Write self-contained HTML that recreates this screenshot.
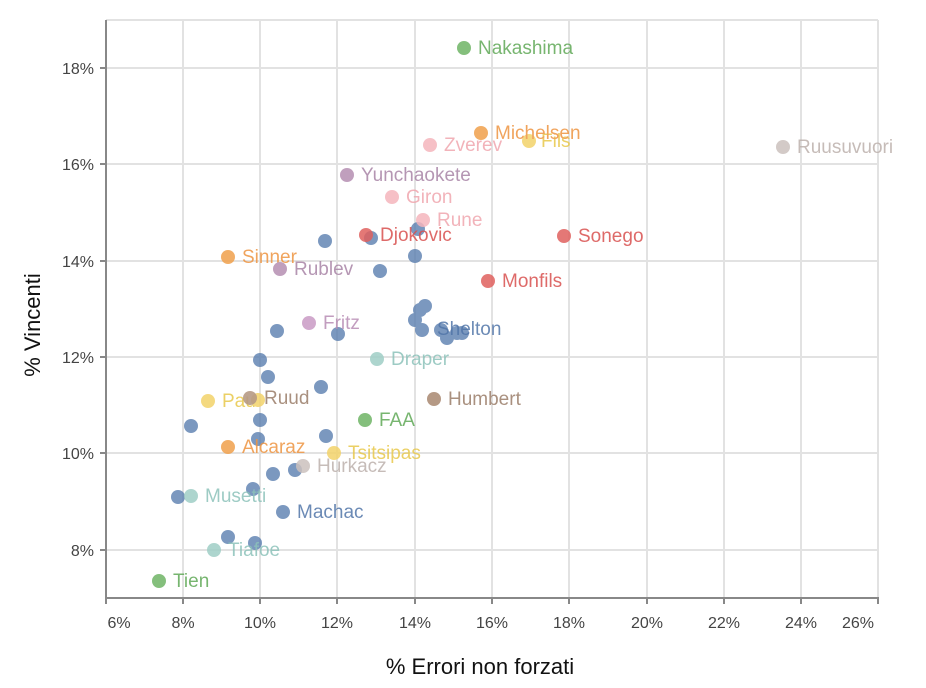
<!DOCTYPE html><html><head><meta charset="utf-8"><style>body{margin:0;background:#fff}svg{display:block;font-family:"Liberation Sans",sans-serif}</style></head><body>
<svg width="926" height="688" viewBox="0 0 926 688">
<g stroke="#e2e2e2" stroke-width="2">
<line x1="183" y1="20" x2="183" y2="598"/><line x1="260" y1="20" x2="260" y2="598"/><line x1="337" y1="20" x2="337" y2="598"/><line x1="415" y1="20" x2="415" y2="598"/><line x1="492" y1="20" x2="492" y2="598"/><line x1="569" y1="20" x2="569" y2="598"/><line x1="647" y1="20" x2="647" y2="598"/><line x1="724" y1="20" x2="724" y2="598"/><line x1="801" y1="20" x2="801" y2="598"/><line x1="878" y1="20" x2="878" y2="598"/>
<line x1="106" y1="20" x2="878" y2="20"/><line x1="106" y1="68" x2="878" y2="68"/><line x1="106" y1="164" x2="878" y2="164"/><line x1="106" y1="261" x2="878" y2="261"/><line x1="106" y1="357" x2="878" y2="357"/><line x1="106" y1="453" x2="878" y2="453"/><line x1="106" y1="550" x2="878" y2="550"/>
</g>
<g stroke="#888" stroke-width="2"><line x1="106" y1="20" x2="106" y2="599"/><line x1="105" y1="598" x2="879" y2="598"/>
<line x1="100" y1="68" x2="106" y2="68"/><line x1="100" y1="164" x2="106" y2="164"/><line x1="100" y1="261" x2="106" y2="261"/><line x1="100" y1="357" x2="106" y2="357"/><line x1="100" y1="453" x2="106" y2="453"/><line x1="100" y1="550" x2="106" y2="550"/>
<line x1="106" y1="598" x2="106" y2="604"/><line x1="183" y1="598" x2="183" y2="604"/><line x1="260" y1="598" x2="260" y2="604"/><line x1="337" y1="598" x2="337" y2="604"/><line x1="415" y1="598" x2="415" y2="604"/><line x1="492" y1="598" x2="492" y2="604"/><line x1="569" y1="598" x2="569" y2="604"/><line x1="647" y1="598" x2="647" y2="604"/><line x1="724" y1="598" x2="724" y2="604"/><line x1="801" y1="598" x2="801" y2="604"/><line x1="878" y1="598" x2="878" y2="604"/></g>
<g font-size="16" fill="#444" text-anchor="end"><text x="94" y="74">18%</text><text x="94" y="170">16%</text><text x="94" y="267">14%</text><text x="94" y="363">12%</text><text x="94" y="459">10%</text><text x="94" y="556">8%</text></g>
<g font-size="16" fill="#444" text-anchor="middle"><text x="119" y="628">6%</text><text x="183" y="628">8%</text><text x="260" y="628">10%</text><text x="337" y="628">12%</text><text x="415" y="628">14%</text><text x="492" y="628">16%</text><text x="569" y="628">18%</text><text x="647" y="628">20%</text><text x="724" y="628">22%</text><text x="801" y="628">24%</text><text x="858" y="628">26%</text></g>
<text x="480" y="674" font-size="22" text-anchor="middle" fill="#111">% Errori non forzati</text>
<text transform="translate(40,325) rotate(-90)" font-size="22" text-anchor="middle" fill="#111">% Vincenti</text>
<g fill="#5b7fb0" opacity="0.8">
<circle cx="325" cy="241" r="7"/><circle cx="371" cy="238" r="7"/><circle cx="415" cy="256" r="7"/><circle cx="418" cy="229" r="7"/><circle cx="380" cy="271" r="7"/><circle cx="415" cy="320" r="7"/><circle cx="420" cy="310" r="7"/><circle cx="425" cy="306" r="7"/><circle cx="422" cy="330" r="7"/><circle cx="277" cy="331" r="7"/><circle cx="338" cy="334" r="7"/><circle cx="260" cy="360" r="7"/><circle cx="268" cy="377" r="7"/><circle cx="321" cy="387" r="7"/><circle cx="260" cy="420" r="7"/><circle cx="191" cy="426" r="7"/><circle cx="258" cy="439" r="7"/><circle cx="326" cy="436" r="7"/><circle cx="273" cy="474" r="7"/><circle cx="295" cy="470" r="7"/><circle cx="253" cy="489" r="7"/><circle cx="178" cy="497" r="7"/><circle cx="283" cy="512" r="7"/><circle cx="228" cy="537" r="7"/><circle cx="255" cy="543" r="7"/><circle cx="441" cy="330" r="7"/><circle cx="447" cy="338" r="7"/><circle cx="457" cy="333" r="7"/><circle cx="462" cy="333" r="7"/></g>
<g font-size="19" opacity="0.85">
<circle cx="464" cy="48" r="7" fill="#6eb465"/><text x="478" y="54" fill="#5fa856">Nakashima</text>
<circle cx="529" cy="141" r="7" fill="#f3d36a"/><text x="541" y="147" fill="#e8c84a">Fils</text>
<circle cx="481" cy="133" r="7" fill="#f0a04b"/><text x="495" y="139" fill="#ee9440">Michelsen</text>
<circle cx="430" cy="145" r="7" fill="#f5b5bc"/><text x="444" y="151" fill="#f0a6ae">Zverev</text>
<circle cx="783" cy="147" r="7" fill="#cbc1bd"/><text x="797" y="153" fill="#bcb0ac">Ruusuvuori</text>
<circle cx="347" cy="175" r="7" fill="#b58eb2"/><text x="361" y="181" fill="#a884a6">Yunchaokete</text>
<circle cx="392" cy="197" r="7" fill="#f5b5bc"/><text x="406" y="203" fill="#f0a6ae">Giron</text>
<circle cx="423" cy="220" r="7" fill="#f5b5bc"/><text x="437" y="226" fill="#f0a6ae">Rune</text>
<circle cx="366" cy="235" r="7" fill="#e0605e"/><text x="380" y="241" fill="#d8504e">Djokovic</text>
<circle cx="564" cy="236" r="7" fill="#e0605e"/><text x="578" y="242" fill="#d8504e">Sonego</text>
<circle cx="228" cy="257" r="7" fill="#f0a04b"/><text x="242" y="263" fill="#ee9440">Sinner</text>
<circle cx="280" cy="269" r="7" fill="#b58eb2"/><text x="294" y="275" fill="#a884a6">Rublev</text>
<circle cx="488" cy="281" r="7" fill="#e0605e"/><text x="502" y="287" fill="#d8504e">Monfils</text>
<circle cx="309" cy="323" r="7" fill="#c99ac4"/><text x="323" y="329" fill="#b88cb4">Fritz</text>
<text x="437" y="335" fill="#5175a8">Shelton</text>
<circle cx="377" cy="359" r="7" fill="#9fcec6"/><text x="391" y="365" fill="#8cc2ba">Draper</text>
<circle cx="208" cy="401" r="7" fill="#f3d36a"/><text x="222" y="407" fill="#e8c84a">Paul</text>
<circle cx="258" cy="400" r="7" fill="#f3d36a"/>
<circle cx="250" cy="398" r="7" fill="#a8876f" opacity="0.9"/><text x="264" y="404" fill="#9a7d68">Ruud</text>
<circle cx="434" cy="399" r="7" fill="#a8876f"/><text x="448" y="405" fill="#9a7d68">Humbert</text>
<circle cx="365" cy="420" r="7" fill="#6eb465"/><text x="379" y="426" fill="#5fa856">FAA</text>
<circle cx="228" cy="447" r="7" fill="#f0a04b"/><text x="242" y="453" fill="#ee9440">Alcaraz</text>
<circle cx="334" cy="453" r="7" fill="#f3d36a"/><text x="348" y="459" fill="#e8c84a">Tsitsipas</text>
<circle cx="303" cy="466" r="7" fill="#cbc1bd"/><text x="317" y="472" fill="#bcb0ac">Hurkacz</text>
<circle cx="191" cy="496" r="7" fill="#9fcec6"/><text x="205" y="502" fill="#8cc2ba">Musetti</text>
<text x="297" y="518" fill="#5175a8">Machac</text>
<circle cx="214" cy="550" r="7" fill="#9fcec6"/><text x="228" y="556" fill="#8cc2ba">Tiafoe</text>
<circle cx="159" cy="581" r="7" fill="#6eb465"/><text x="173" y="587" fill="#5fa856">Tien</text>
</g>
</svg></body></html>
